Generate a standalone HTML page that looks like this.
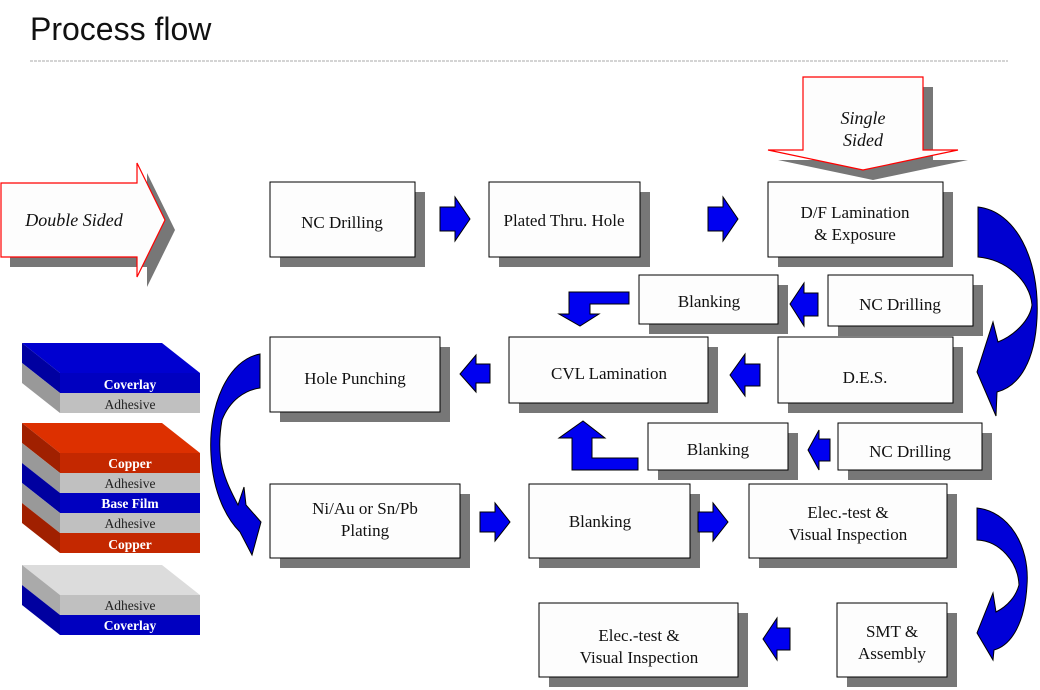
<!DOCTYPE html>
<html><head><meta charset="utf-8"><style>
html,body{margin:0;padding:0;background:#fff;}
svg{display:block;}
.t{font-family:"Liberation Serif",serif;font-size:17px;fill:#111;text-anchor:middle;}
.i{font-family:"Liberation Serif",serif;font-size:18px;fill:#111;text-anchor:middle;font-style:italic;}
.l{font-family:"Liberation Serif",serif;font-size:13.5px;text-anchor:middle;}
</style></head><body>
<svg width="1040" height="690" viewBox="0 0 1040 690" xmlns="http://www.w3.org/2000/svg">
<text x="30" y="40" font-family="Liberation Sans, sans-serif" font-size="32" fill="#111">Process flow</text>
<line x1="30" y1="61" x2="1008" y2="61" stroke="#aaa" stroke-width="1" stroke-dasharray="3,1"/>

<!-- Double Sided arrow -->
<polygon points="10,193 147,193 147,173 175,230 147,287 147,267 10,267" fill="#777"/>
<polygon points="1,183 137,183 137,163 165,220 137,277 137,257 1,257" fill="#fdfdfd" stroke="#f00" stroke-width="1.2"/>
<text x="74" y="226" class="i">Double Sided</text>

<!-- Single Sided arrow -->
<polygon points="813,87 933,87 933,160 968,160 873,180 778,160 813,160" fill="#777"/>
<polygon points="803,77 923,77 923,150 958,150 863,170 768,150 803,150" fill="#fdfdfd" stroke="#f00" stroke-width="1.2"/>
<text x="863" y="124" class="i">Single</text>
<text x="863" y="146" class="i">Sided</text>

<!-- boxes -->
<g fill="#777">
<rect x="280" y="192" width="145" height="75"/>
<rect x="499" y="192" width="151" height="75"/>
<rect x="778" y="192" width="175" height="75"/>
<rect x="649" y="285" width="139" height="49"/>
<rect x="838" y="285" width="145" height="51"/>
<rect x="280" y="347" width="170" height="75"/>
<rect x="519" y="347" width="199" height="66"/>
<rect x="788" y="347" width="175" height="66"/>
<rect x="658" y="433" width="140" height="47"/>
<rect x="848" y="433" width="144" height="47"/>
<rect x="280" y="494" width="190" height="74"/>
<rect x="539" y="494" width="161" height="74"/>
<rect x="759" y="494" width="198" height="74"/>
<rect x="847" y="613" width="110" height="74"/>
<rect x="549" y="613" width="199" height="74"/>
</g>
<g fill="#fdfdfd" stroke="#000" stroke-width="1">
<rect x="270" y="182" width="145" height="75"/>
<rect x="489" y="182" width="151" height="75"/>
<rect x="768" y="182" width="175" height="75"/>
<rect x="639" y="275" width="139" height="49"/>
<rect x="828" y="275" width="145" height="51"/>
<rect x="270" y="337" width="170" height="75"/>
<rect x="509" y="337" width="199" height="66"/>
<rect x="778" y="337" width="175" height="66"/>
<rect x="648" y="423" width="140" height="47"/>
<rect x="838" y="423" width="144" height="47"/>
<rect x="270" y="484" width="190" height="74"/>
<rect x="529" y="484" width="161" height="74"/>
<rect x="749" y="484" width="198" height="74"/>
<rect x="837" y="603" width="110" height="74"/>
<rect x="539" y="603" width="199" height="74"/>
</g>
<g class="t">
<text x="342" y="228">NC Drilling</text>
<text x="564" y="226">Plated Thru. Hole</text>
<text x="855" y="218">D/F Lamination</text>
<text x="855" y="240">&amp; Exposure</text>
<text x="709" y="307">Blanking</text>
<text x="900" y="310">NC Drilling</text>
<text x="355" y="384">Hole Punching</text>
<text x="609" y="379">CVL Lamination</text>
<text x="865" y="383">D.E.S.</text>
<text x="718" y="455">Blanking</text>
<text x="910" y="457">NC Drilling</text>
<text x="365" y="514">Ni/Au or Sn/Pb</text>
<text x="365" y="536">Plating</text>
<text x="600" y="527">Blanking</text>
<text x="848" y="518">Elec.-test &amp;</text>
<text x="848" y="540">Visual Inspection</text>
<text x="892" y="637">SMT &amp;</text>
<text x="892" y="659">Assembly</text>
<text x="639" y="641">Elec.-test &amp;</text>
<text x="639" y="663">Visual Inspection</text>
</g>

<!-- small block arrows -->
<g fill="#0000f0" stroke="#000" stroke-width="1">
<polygon points="440,207 455,207 455,197 470,219 455,241 455,231 440,231"/>
<polygon points="708,207 723,207 723,197 738,219 723,241 723,231 708,231"/>
<polygon points="818,293 804,293 804,283 790,304 804,326 804,316 818,316"/>
<polygon points="760,364 745,364 745,354 730,375 745,396 745,386 760,386"/>
<polygon points="490,364 476,364 476,355 460,374 476,392 476,383 490,383"/>
<polygon points="830,439 819,439 819,430 808,450 819,470 819,461 830,461"/>
<polygon points="790,628 777,628 777,618 763,639 777,660 777,650 790,650"/>
<polygon points="480,512 495,512 495,503 510,522 495,541 495,532 480,532"/>
<polygon points="698,512 713,512 713,503 728,522 713,541 713,532 698,532"/>
<!-- bent arrows -->
<polygon points="629,292 629,304 590,304 590,314 599,314 580,326 559,314 569,314 569,292"/>
<polygon points="638,470 638,458 592,458 592,438 605,438 583,421 559,438 572,438 572,470"/>
</g>

<!-- curved arrows -->
<path d="M978,207 C1015,211 1040,258 1037,318 C1035,360 1020,386 997,392 L996,416 L977,372 L993,322 L998,342 C1015,335 1030,320 1032,305 C1030,280 1005,259 978,257 Z" fill="#0000d0" stroke="#000" stroke-width="1"/>
<path d="M260,354 C228,360 208,405 211,455 C213,495 228,520 240,532 L252,555 L261,522 L246,505 L244,487 L238,505 C225,480 215,460 222,420 C230,400 245,390 260,388 Z" fill="#0000d8" stroke="#000" stroke-width="1"/>
<path d="M977,508 C1008,511 1030,545 1027,585 C1025,622 1012,645 994,650 L993,660 L977,633 L993,593 L996,612 C1008,606 1016,596 1019,585 C1018,562 1000,541 977,540 Z" fill="#0000d8" stroke="#000" stroke-width="1"/>

<!-- stack 1 -->
<polygon points="22,343 162,343 200,373 60,373" fill="#0000d0"/>
<polygon points="22,343 60,373 60,393 22,363" fill="#0000a0"/>
<polygon points="22,363 60,393 60,413 22,383" fill="#999"/>
<rect x="60" y="373" width="140" height="20" fill="#0000c0"/>
<rect x="60" y="393" width="140" height="20" fill="#c0c0c0"/>
<text x="130" y="389" class="l" fill="#fff" font-weight="bold">Coverlay</text>
<text x="130" y="409" class="l" fill="#222">Adhesive</text>

<!-- stack 2 -->
<polygon points="22,423 162,423 200,453 60,453" fill="#dd3000"/>
<polygon points="22,423 60,453 60,473 22,443" fill="#a02000"/>
<polygon points="22,443 60,473 60,493 22,463" fill="#999"/>
<polygon points="22,463 60,493 60,513 22,483" fill="#0000a0"/>
<polygon points="22,483 60,513 60,533 22,503" fill="#999"/>
<polygon points="22,503 60,533 60,553 22,523" fill="#a02000"/>
<rect x="60" y="453" width="140" height="20" fill="#c42800"/>
<rect x="60" y="473" width="140" height="20" fill="#c0c0c0"/>
<rect x="60" y="493" width="140" height="20" fill="#0000c0"/>
<rect x="60" y="513" width="140" height="20" fill="#c0c0c0"/>
<rect x="60" y="533" width="140" height="20" fill="#c42800"/>
<text x="130" y="468" class="l" fill="#fff" font-weight="bold">Copper</text>
<text x="130" y="488" class="l" fill="#222">Adhesive</text>
<text x="130" y="508" class="l" fill="#fff" font-weight="bold">Base Film</text>
<text x="130" y="528" class="l" fill="#222">Adhesive</text>
<text x="130" y="549" class="l" fill="#fff" font-weight="bold">Copper</text>

<!-- stack 3 -->
<polygon points="22,565 162,565 200,595 60,595" fill="#dcdcdc"/>
<polygon points="22,565 60,595 60,615 22,585" fill="#aaa"/>
<polygon points="22,585 60,615 60,635 22,605" fill="#0000a0"/>
<rect x="60" y="595" width="140" height="20" fill="#c0c0c0"/>
<rect x="60" y="615" width="140" height="20" fill="#0000c0"/>
<text x="130" y="610" class="l" fill="#222">Adhesive</text>
<text x="130" y="630" class="l" fill="#fff" font-weight="bold">Coverlay</text>
</svg>
</body></html>
